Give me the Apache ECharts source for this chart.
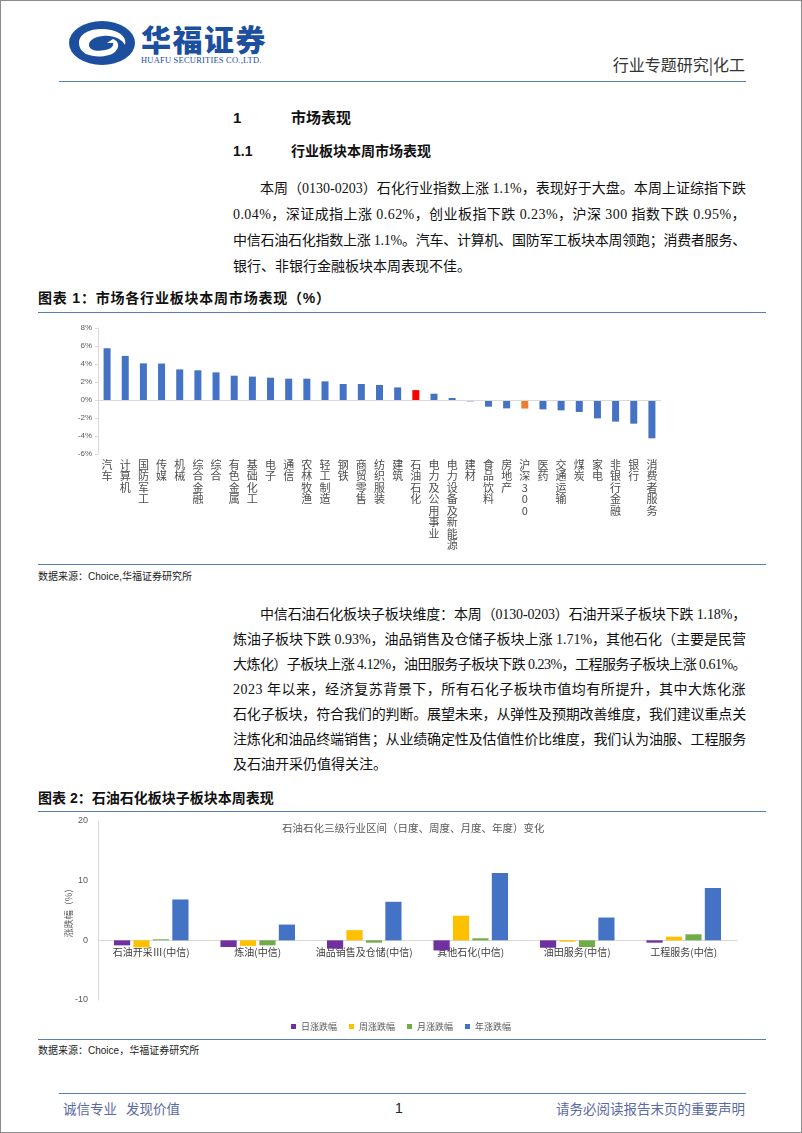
<!DOCTYPE html>
<html><head><meta charset="utf-8">
<script src="https://cdn.jsdelivr.net/npm/echarts@6/dist/echarts.min.js"></script>
<style>
html,body{margin:0;padding:0;background:#fff;}
#page{position:relative;width:802px;height:1133px;box-sizing:border-box;border:1px solid #8c8c8c;overflow:hidden;font-family:"Liberation Serif","Noto Sans CJK SC",serif;color:#111;}
.abs{position:absolute;white-space:nowrap;}
.ln{position:absolute;left:232px;width:513px;font-size:14px;line-height:20px;height:20px;white-space:nowrap;}
.h{font-family:"Liberation Sans","Noto Sans CJK SC",sans-serif;font-weight:bold;}
.rule{position:absolute;height:0;border-top:1.5px solid #5a7cb8;}
.src{position:absolute;font-size:10px;font-family:"Liberation Sans","Noto Sans CJK SC",sans-serif;color:#222;white-space:nowrap;}
</style></head>
<body>
<div id="page">
  <svg class="abs" style="left:66px;top:18px" width="74" height="50" viewBox="0 0 74 50">
    <ellipse cx="35" cy="24" rx="33" ry="22" fill="#1d4f9f"/>
    <path d="M12 24 C12 12 30 8 44 11 C54 13 60 19 58 26 C55 20 46 16 36 17 C26 18 22 22 22 26 C22 31 30 33 38 31 C44 30 47 27 46 24 L40 24 L46 20 C52 22 53 28 48 33 C42 38 28 39 19 35 C14 32 12 28 12 24 Z" fill="#fff"/>
  </svg>
  <div class="abs" style="left:140px;top:17px;font-family:'Noto Sans CJK SC';font-weight:900;font-size:30px;letter-spacing:1.5px;color:#1d4f9f;line-height:40px">华福证券</div>
  <div class="abs" style="left:140px;top:54px;font-family:'Liberation Serif';font-size:8.5px;color:#1d4f9f;letter-spacing:0.2px">HUAFU SECURITIES CO.,LTD.</div>
  <div class="abs" style="right:56px;top:52px;font-family:'Noto Sans CJK SC';font-size:16px;color:#333;line-height:22px">行业专题研究|化工</div>
  <div class="rule" style="left:58px;width:687px;top:80px"></div>

  <div class="abs h" style="left:232px;top:107px;font-size:15px;line-height:20px">1</div>
  <div class="abs h" style="left:290px;top:107px;font-size:15px;line-height:20px">市场表现</div>
  <div class="abs h" style="left:232px;top:140px;font-size:14px;line-height:20px">1.1</div>
  <div class="abs h" style="left:290px;top:140px;font-size:14px;line-height:20px">行业板块本周市场表现</div>

  <div class="ln fit" style="top:178px;left:259px;width:486px">本周（0130-0203）石化行业指数上涨 1.1%，表现好于大盘。本周上证综指下跌</div>
  <div class="ln fit" style="top:204px">0.04%，深证成指上涨 0.62%，创业板指下跌 0.23%，沪深 300 指数下跌 0.95%，</div>
  <div class="ln fit" style="top:230px">中信石油石化指数上涨 1.1%。汽车、计算机、国防军工板块本周领跑；消费者服务、</div>
  <div class="ln" style="top:256px">银行、非银行金融板块本周表现不佳。</div>

  <div class="abs h" style="left:37px;top:287px;font-size:14px;line-height:20px;letter-spacing:0.8px">图表 1：市场各行业板块本周市场表现（%）</div>
  <div class="rule" style="left:37px;width:728px;top:311px"></div>
  <div id="c1" style="position:absolute;left:30px;top:315px;width:740px;height:248px"></div>
  <div class="rule" style="left:37px;width:728px;top:563px"></div>
  <div class="src" style="left:37px;top:568px;line-height:16px">数据来源：Choice,华福证券研究所</div>

  <div class="ln fit" style="top:604px;left:259px;width:486px">中信石油石化板块子板块维度：本周（0130-0203）石油开采子板块下跌 1.18%，</div>
  <div class="ln fit" style="top:629px">炼油子板块下跌 0.93%，油品销售及仓储子板块上涨 1.71%，其他石化（主要是民营</div>
  <div class="ln fit" style="top:654px">大炼化）子板块上涨 4.12%，油田服务子板块下跌 0.23%，工程服务子板块上涨 0.61%。</div>
  <div class="ln fit" style="top:679px">2023 年以来，经济复苏背景下，所有石化子板块市值均有所提升，其中大炼化涨</div>
  <div class="ln fit" style="top:704px">石化子板块，符合我们的判断。展望未来，从弹性及预期改善维度，我们建议重点关</div>
  <div class="ln fit" style="top:729px">注炼化和油品终端销售；从业绩确定性及估值性价比维度，我们认为油服、工程服务</div>
  <div class="ln" style="top:754px">及石油开采仍值得关注。</div>

  <div class="abs h" style="left:37px;top:787px;font-size:14px;line-height:20px">图表 2：石油石化板块子板块本周表现</div>
  <div class="rule" style="left:37px;width:728px;top:810px"></div>
  <div id="c2" style="position:absolute;left:30px;top:812px;width:740px;height:225px"></div>
  <div class="rule" style="left:37px;width:728px;top:1038px"></div>
  <div class="src" style="left:37px;top:1042px;line-height:16px">数据来源：Choice，华福证券研究所</div>

  <div class="rule" style="left:58px;width:687px;top:1092px"></div>
  <div class="abs" style="left:62px;top:1097px;font-family:'Noto Sans CJK SC';font-size:13.5px;color:#5b6aa3;line-height:20px">诚信专业<span style="display:inline-block;width:9px"></span>发现价值</div>
  <div class="abs" style="left:394px;top:1097px;font-family:'Liberation Sans';font-size:14px;color:#222;line-height:20px">1</div>
  <div class="abs" style="right:56px;top:1097px;font-family:'Noto Sans CJK SC';font-size:13.5px;color:#5b6aa3;line-height:20px">请务必阅读报告末页的重要声明</div>
</div>
<script>
// fit justified lines
document.querySelectorAll('.ln.fit').forEach(el=>{
  const target = parseFloat(el.style.width) || 513;
  const txt = el.textContent;
  const span = document.createElement('span');
  span.textContent = txt;
  el.textContent = '';
  el.appendChild(span);
  const w = span.getBoundingClientRect().width;
  const n = [...txt].length;
  el.style.letterSpacing = ((target - w) / n) + 'px';
});

// ---------- Chart 1 data ----------
const industries = ['汽车','计算机','国防军工','传媒','机械','综合金融','综合','有色金属','基础化工','电子','通信','农林牧渔','轻工制造','钢铁','商贸零售','纺织服装','建筑','石油石化','电力及公用事业','电力设备及新能源','建材','食品饮料','房地产','沪深300','医药','交通运输','煤炭','家电','非银行金融','银行','消费者服务'];
const weeklyChange = [5.75,4.9,4.07,4.05,3.4,3.3,3.07,2.7,2.6,2.48,2.37,2.37,2.07,1.78,1.78,1.67,1.4,1.1,0.7,0.22,-0.15,-0.74,-0.93,-0.95,-1.04,-1.15,-1.33,-2.04,-2.4,-2.63,-4.26];
const highlightRed = '石油石化';
const highlightOrange = '沪深300';

// ---------- Chart 2 data ----------
const subSectors = ['石油开采Ⅲ(中信)','炼油(中信)','油品销售及仓储(中信)','其他石化(中信)','油田服务(中信)','工程服务(中信)'];
const dailyChg   = [-0.84,-1.12,-1.4,-1.69,-1.24,-0.39];
const weeklyChg  = [-1.18,-0.93,1.71,4.12,-0.23,0.61];
const monthlyChg = [0.17,-0.84,-0.39,0.34,-1.12,1.01];
const yearlyChg  = [6.85,2.64,6.46,11.3,3.82,8.76];
const seriesNames = ['日涨跌幅','周涨跌幅','月涨跌幅','年涨跌幅'];

const CJK = '"Noto Sans CJK SC", sans-serif';

const c1 = echarts.init(document.getElementById('c1'));
c1.setOption({
  animation:false,
  grid:{left:67,right:110,top:12,bottom:110},
  xAxis:{type:'category',data:industries,
    axisLine:{show:false},axisTick:{show:false},
    axisLabel:{interval:0,margin:5,fontSize:11,lineHeight:11.5,color:'#4d4d4d',fontFamily:CJK,
      formatter:v=>v.split('').join('\n'),verticalAlign:'top'}},
  yAxis:{type:'value',min:-6,max:8,interval:2,
    axisLine:{show:true,lineStyle:{color:'#d9d9d9'}},
    axisTick:{show:true,length:3,lineStyle:{color:'#d9d9d9'}},
    splitLine:{show:false},
    axisLabel:{formatter:'{value}%',fontSize:8,color:'#595959',margin:6,fontFamily:'"Liberation Sans", sans-serif'}},
  series:[{type:'bar',barWidth:7,
    data:weeklyChange.map((v,i)=>({value:v,itemStyle:{color: industries[i]===highlightRed?'#ff0000':(industries[i]===highlightOrange?'#ed7d31':'#4472c4')}})),
    markLine:{silent:true,symbol:'none',label:{show:false},lineStyle:{color:'#d9d9d9',type:'solid',width:1},data:[{yAxis:0}]}
  }]
});

const c2 = echarts.init(document.getElementById('c2'));
const colors2 = ['#7030a0','#ffc000','#70ad47','#4472c4'];
const plotH2 = 225 - 8 - 38;
c2.setOption({
  animation:false,
  color:colors2,
  title:{text:'石油石化三级行业区间（日度、周度、月度、年度）变化',left:246,top:5,
    textStyle:{fontSize:10.5,fontWeight:'normal',color:'#595959',fontFamily:CJK}},
  legend:{top:204,left:'center',icon:'rect',itemWidth:5,itemHeight:5,itemGap:12,
    textStyle:{fontSize:9,color:'#595959',fontFamily:CJK},data:seriesNames},
  grid:{left:67,right:34,top:8,bottom:38},
  xAxis:{type:'category',data:subSectors,
    axisLine:{onZero:false,lineStyle:{color:'#d9d9d9'}},axisTick:{show:false},
    offset:-plotH2*10/30,
    axisLabel:{interval:0,margin:7,fontSize:10,color:'#404040',fontFamily:CJK}},
  yAxis:{type:'value',min:-10,max:20,interval:10,name:'涨跌幅（%）',nameLocation:'middle',nameGap:25,nameMoveOverlap:false,
    nameTextStyle:{fontSize:9,color:'#595959',fontFamily:CJK},
    axisLine:{show:true,lineStyle:{color:'#d9d9d9'}},axisTick:{show:false},splitLine:{show:false},
    axisLabel:{fontSize:9,color:'#595959',margin:10,fontFamily:'"Liberation Sans", sans-serif'}},
  series:[
    {name:seriesNames[0],type:'bar',data:dailyChg,barGap:'20%',barCategoryGap:'30%'},
    {name:seriesNames[1],type:'bar',data:weeklyChg,barGap:'20%',barCategoryGap:'30%'},
    {name:seriesNames[2],type:'bar',data:monthlyChg,barGap:'20%',barCategoryGap:'30%'},
    {name:seriesNames[3],type:'bar',data:yearlyChg,barGap:'20%',barCategoryGap:'30%'}
  ]
});
</script>
</body></html>
